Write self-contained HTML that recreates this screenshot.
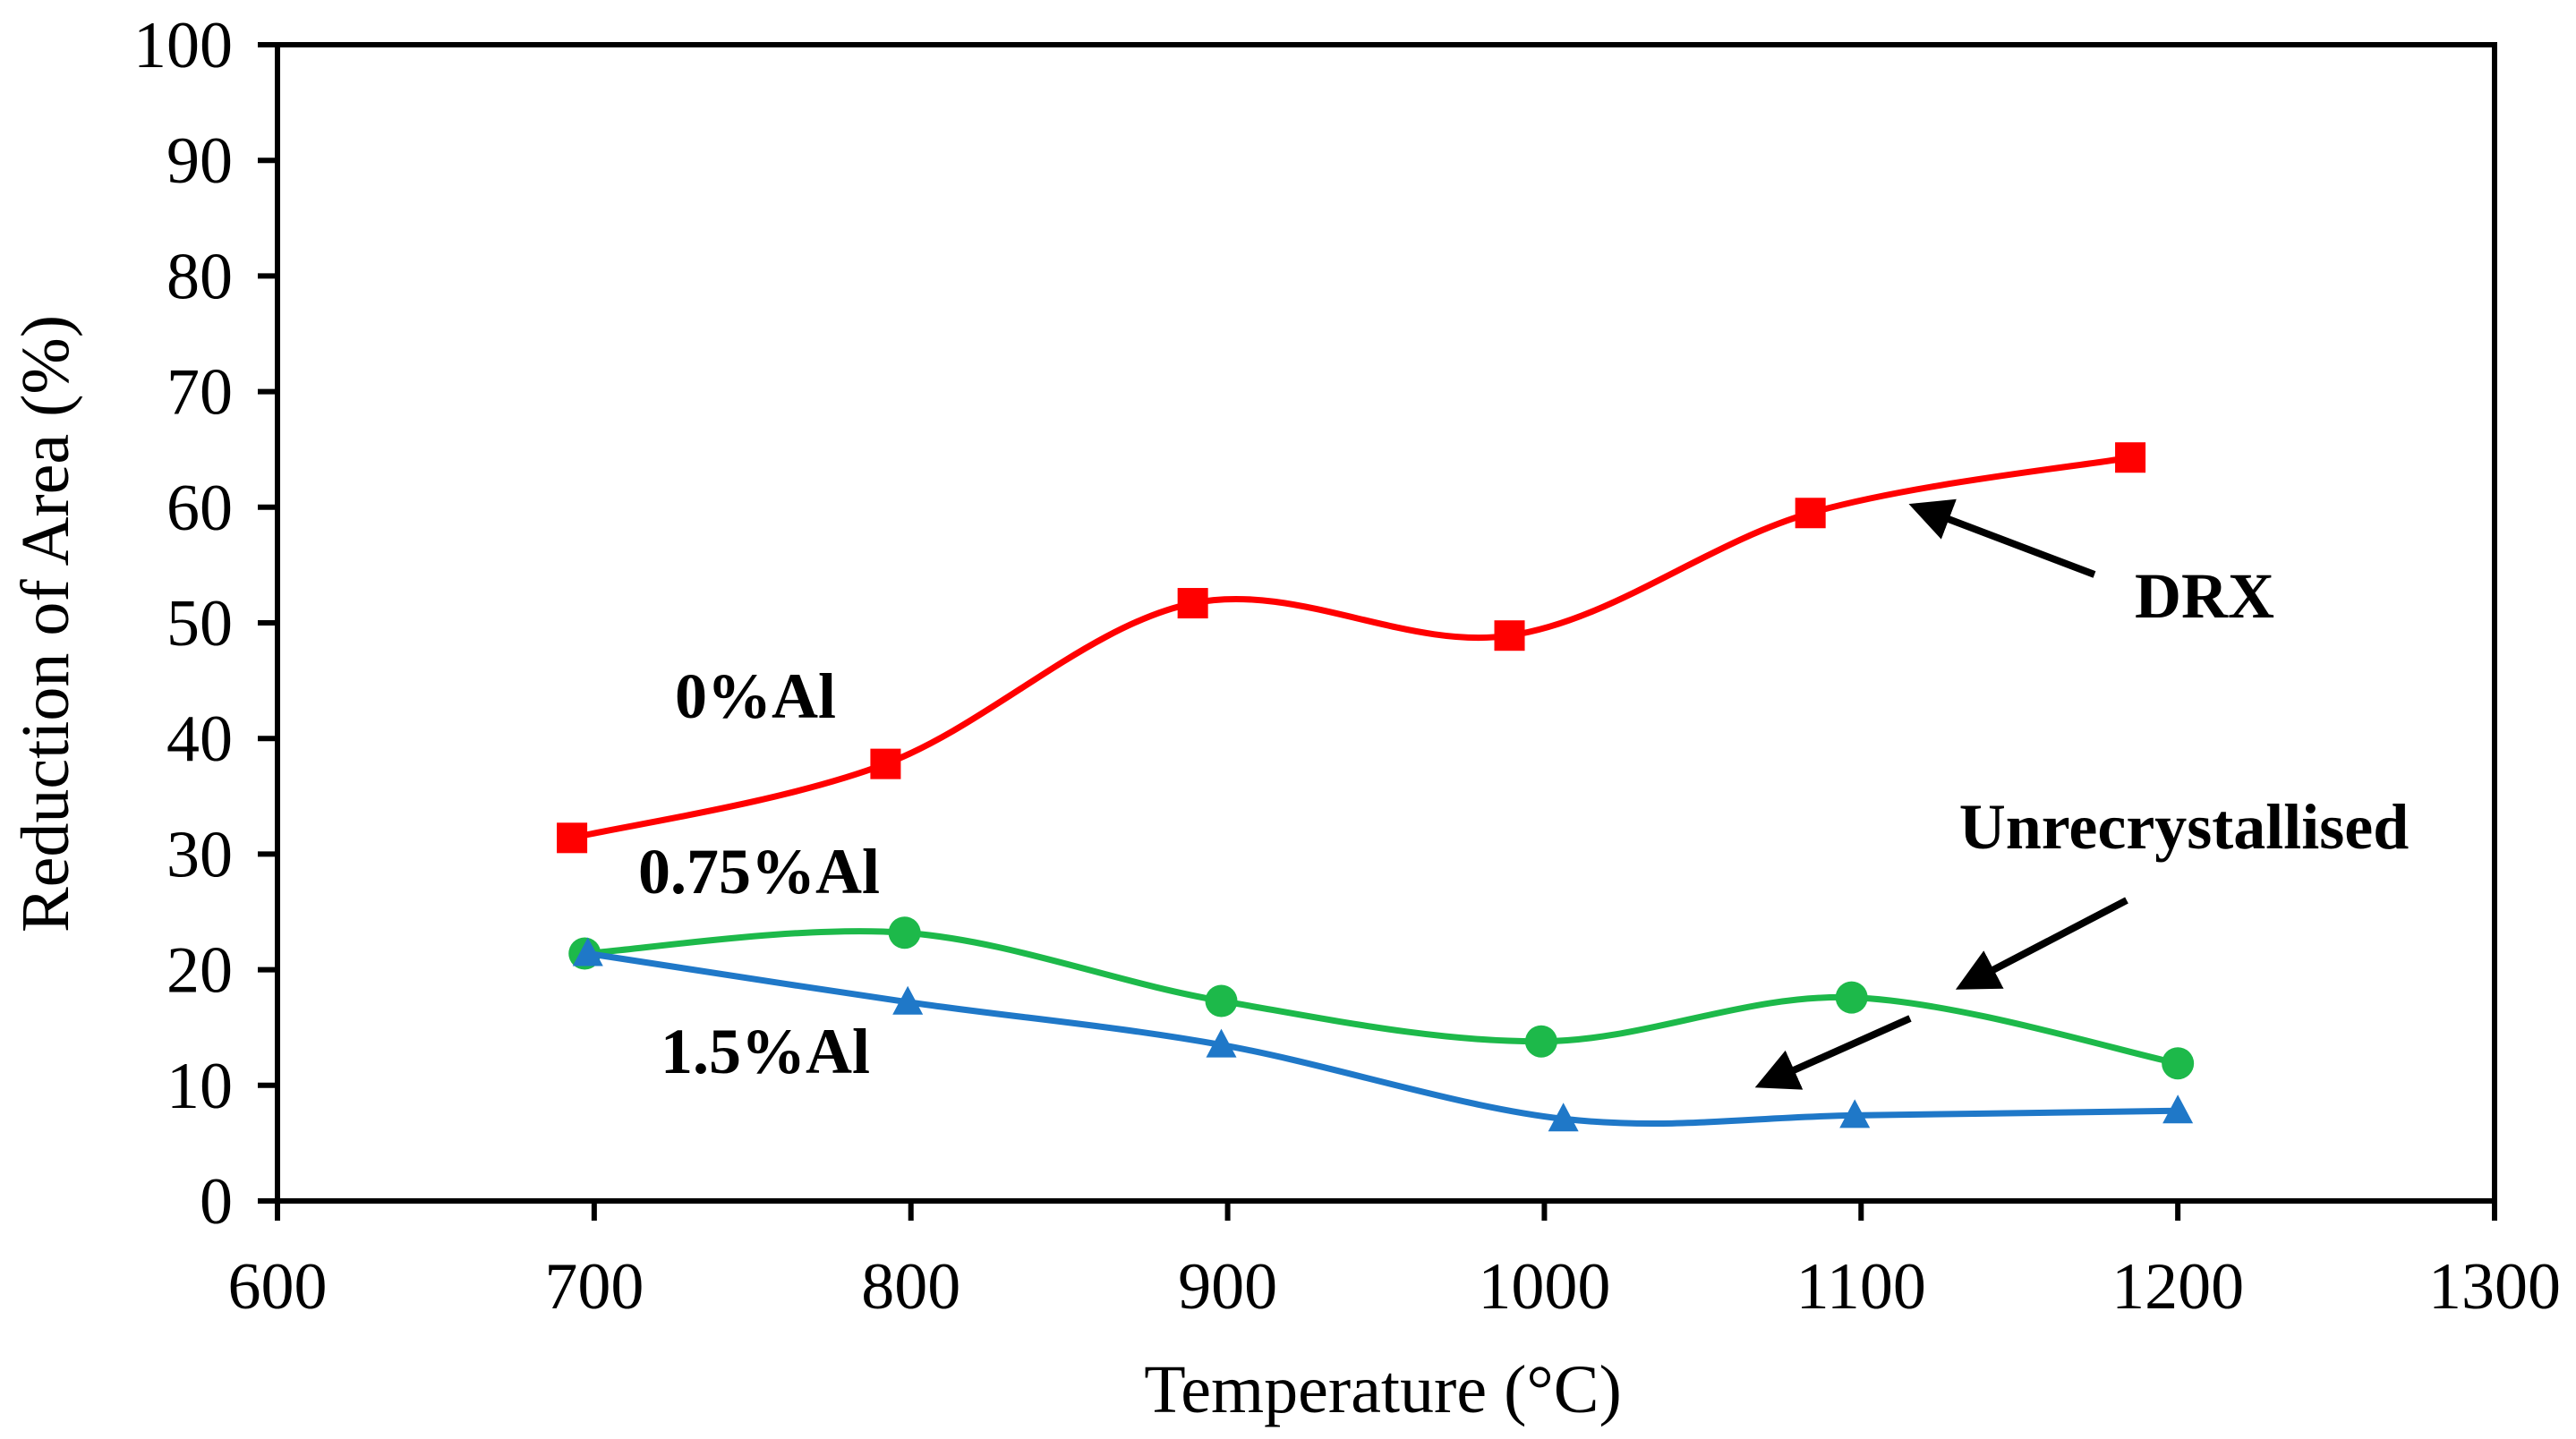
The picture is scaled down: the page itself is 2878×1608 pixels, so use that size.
<!DOCTYPE html>
<html><head><meta charset="utf-8"><style>
html,body{margin:0;padding:0;background:#fff}
svg{display:block}
text{font-family:"Liberation Serif",serif;fill:#000}
</style></head><body>
<svg id="chart" width="2878" height="1608" viewBox="0 0 2878 1608" xmlns="http://www.w3.org/2000/svg">
<defs><marker id="ah" markerWidth="6" markerHeight="6" refX="5" refY="3" orient="auto" markerUnits="strokeWidth"><path d="M0,0 L6,3 L0,6 z" fill="#000"/></marker></defs>
<g id="series"></g>
<g id="axes"></g>
<text x="0" y="0" font-size="76" text-anchor="middle" transform="translate(76,697) rotate(-90)">Reduction of Area (%)</text>
<text x="1545" y="1578" font-size="76" text-anchor="middle">Temperature (°C)</text>
<text x="844" y="802" font-size="72" font-weight="bold" text-anchor="middle">0%Al</text>
<text x="848" y="998" font-size="72" font-weight="bold" text-anchor="middle">0.75%Al</text>
<text x="855" y="1199" font-size="72" font-weight="bold" text-anchor="middle">1.5%Al</text>
<text x="2463" y="690" font-size="72" font-weight="bold" text-anchor="middle">DRX</text>
<text x="2440" y="948" font-size="72" font-weight="bold" text-anchor="middle">Unrecrystallised</text>
<line x1="2340" y1="642" x2="2140" y2="566" stroke="#000" stroke-width="8" marker-end="url(#ah)"/>
<line x1="2376" y1="1006" x2="2192" y2="1102" stroke="#000" stroke-width="8" marker-end="url(#ah)"/>
<line x1="2134" y1="1138" x2="1968" y2="1212" stroke="#000" stroke-width="8" marker-end="url(#ah)"/>
</svg>
<script>
const xTicks=[600,700,800,900,1000,1100,1200,1300];
const yTicks=[0,10,20,30,40,50,60,70,80,90,100];
const redX=[693,792,889,989,1084,1185];
const redY=[31.4,37.8,51.7,48.9,59.5,64.3];
const greenX=[697,798,898,999,1097,1200];
const greenY=[21.4,23.2,17.3,13.8,17.6,11.9];
const blueX=[698,799,898,1006,1098,1200];
const blueY=[21.4,17.2,13.5,7.1,7.4,7.8];

const X0=310,X1=2787,Y0=1342,Y1=50;
const sx=v=>X0+(v-600)/700*(X1-X0);
const sy=v=>Y0-v/100*(Y0-Y1);
const NS="http://www.w3.org/2000/svg";
const axes=document.getElementById('axes');
const ser=document.getElementById('series');
function mk(tag,attrs,parent){const e=document.createElementNS(NS,tag);for(const k in attrs)e.setAttribute(k,attrs[k]);parent.appendChild(e);return e;}

const frame=mk('rect',{x:X0,y:Y1,width:X1-X0,height:Y0-Y1,fill:'none',stroke:'#000','stroke-width':6},axes);


xTicks.forEach(t=>{
  const l=mk('line',{x1:sx(t),x2:sx(t),y1:Y0,y2:Y0+22,stroke:'#000','stroke-width':6},axes);
  
  
  const tx=mk('text',{x:sx(t),y:1462,'font-size':74,'text-anchor':'middle'},axes);
  tx.textContent=t;
  
  
});
yTicks.forEach(t=>{
  const l=mk('line',{x1:X0-22,x2:X0,y1:sy(t),y2:sy(t),stroke:'#000','stroke-width':6},axes);
  
  
  const tx=mk('text',{x:260,y:sy(t)+25,'font-size':74,'text-anchor':'end'},axes);
  tx.textContent=t;
  
  
});
function spline(pts){
  let d=`M${pts[0][0]},${pts[0][1]}`;
  for(let i=0;i<pts.length-1;i++){
    const p0=pts[Math.max(0,i-1)],p1=pts[i],p2=pts[i+1],p3=pts[Math.min(pts.length-1,i+2)];
    const t=1/3;
    const c1=[p1[0]+(p2[0]-p0[0])*t/2,p1[1]+(p2[1]-p0[1])*t/2];
    const c2=[p2[0]-(p3[0]-p1[0])*t/2,p2[1]-(p3[1]-p1[1])*t/2];
    d+=` C${c1[0]},${c1[1]} ${c2[0]},${c2[1]} ${p2[0]},${p2[1]}`;
  }
  return d;
}
function drawSeries(xs,ys,color,shape,name){
  const pts=xs.map((x,i)=>[sx(x),sy(ys[i])]);
  const p=mk('path',{d:spline(pts),fill:'none',stroke:color,'stroke-width':7},ser);
  
  
  pts.forEach(([x,y])=>{
    let m;
    if(shape==='square')m=mk('rect',{x:x-17,y:y-17,width:34,height:34,fill:color},ser);
    else if(shape==='circle')m=mk('circle',{cx:x,cy:y,r:18,fill:color},ser);
    else m=mk('polygon',{points:`${x},${y-18} ${x+17},${y+14} ${x-17},${y+14}`,fill:color},ser);
    
    
  });
}
drawSeries(redX,redY,'#ff0000','square','series-0-al');
drawSeries(greenX,greenY,'#1db94a','circle','series-0-75-al');
drawSeries(blueX,blueY,'#1f78c8','triangle','series-1-5-al');
</script>
</body></html>
